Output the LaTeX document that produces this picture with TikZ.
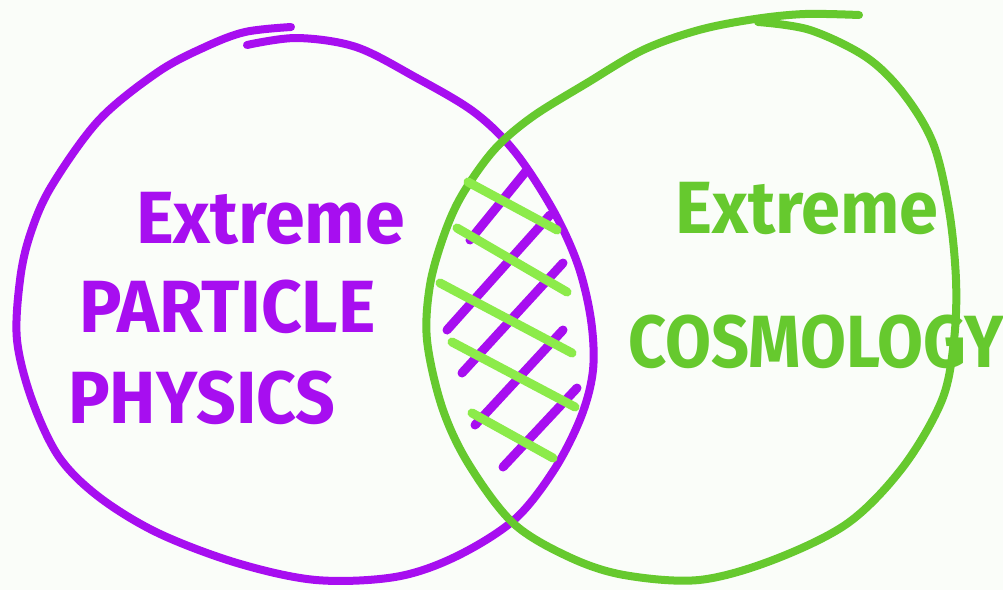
\documentclass[tikz,border=0pt]{standalone}
\usepackage{fontspec}
\setmainfont{Fira Sans}
\definecolor{vpurple}{HTML}{A70EF0}
\definecolor{vgreen}{HTML}{66C92E}
\definecolor{hgreen}{HTML}{8CEB4A}
\tikzset{
  ring/.style={line width=8pt,line cap=round,line join=round},
  hatch/.style={line width=9pt,line cap=round},
  lbl/.style={font=\fontsize{74}{74}\selectfont\bfseries,inner sep=0pt,anchor=base west}
}
\begin{document}
\begin{tikzpicture}[x=1pt,y=-1pt]
  \fill[white!97!vgreen] (0,0) rectangle (1003,590);
  \useasboundingbox (0,0) rectangle (1003,590);
  % purple set
  \draw[ring,vpurple] plot[smooth,tension=.55] coordinates {
    (247,45) (297,38) (356,47) (415,77) (474,112) (515,152) (553,210)
    (578,265) (591,320) (593,370) (581,417) (554,470) (514,520)
    (455,557) (395,577) (316,580) (237,563) (158,533) (99,497) (59,457)
    (32,400) (17,340) (20,280) (30,235) (51,187) (99,120) (158,72)
    (205,47) (245,32) (291,27)};
  % green set
  \draw[ring,vgreen] plot[smooth,tension=.55] coordinates {
    (758,22) (810,30) (866,57) (903,93) (933,143) (949,210) (956,280)
    (954,340) (942,400) (903,467) (848,523) (773,560) (699,580)
    (624,575) (569,557) (513,523) (468,463) (442,407) (427,340) (430,285)
    (444,235) (462,195) (494,150) (532,117) (587,83) (643,50) (699,30)
    (755,19) (805,14) (859,15)};
  % hatching of the intersection
  \foreach \xa/\ya/\xb/\yb in {470/240/527/170, 447/330/550/215, 462/373/563/263,
                               475/425/563/330, 503/467/577/388}
    \draw[hatch,vpurple] (\xa,\ya)--(\xb,\yb);
  \foreach \xa/\ya/\xb/\yb in {468/182/557/230, 457/228/567/292, 440/283/572/353,
                               452/342/575/407, 472/413/553/458}
    \draw[hatch,hgreen] (\xa,\ya)--(\xb,\yb);
  % labels
  \node[lbl,vpurple] (pext) at (136,243) {\scalebox{.97}[1]{Extreme}};
  \node[lbl,vpurple] (ppart) at (79,332) {\scalebox{.96}[1]{PARTICLE}};
  \node[lbl,vpurple] (pphys) at (68,423) {\scalebox{.94}[1]{PHYSICS}};
  \node[lbl,vgreen] (gext) at (675,233) {\scalebox{.95}[1]{Extreme}};
  \node[lbl,vgreen] (gcos) at (628,367) {\scalebox{.9}[1]{COSMOLOGY}};
\end{tikzpicture}
\end{document}
